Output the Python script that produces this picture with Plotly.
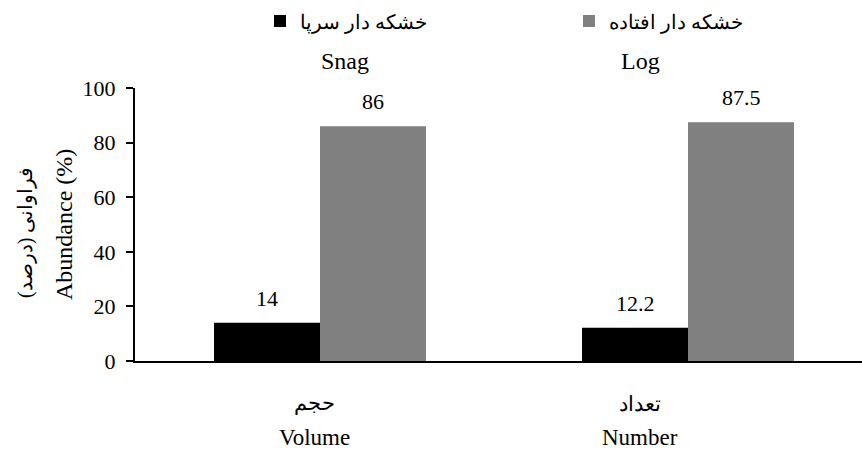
import plotly.graph_objects as go

categories = ["Volume", "Number"]
categories_fa = ["حجم", "تعداد"]
series_names_fa = ["خشکه دار سرپا", "خشکه دار افتاده"]
series_names_en = ["Snag", "Log"]
snag_values = [14, 12.2]
log_values = [86, 87.5]
y_ticks = [0, 20, 40, 60, 80, 100]

FONT = "Liberation Serif, Times New Roman, Times, serif"
PLOT_L, PLOT_R, PLOT_T, PLOT_B = 135, 862, 88, 361
PW, PH = PLOT_R - PLOT_L, PLOT_B - PLOT_T


def px_x(p):
    return (p - PLOT_L) / PW


def px_y(p):
    return (PLOT_B - p) / PH


fig = go.Figure()
fig.add_trace(go.Bar(x=categories, y=snag_values, name=series_names_fa[0], legend="legend",
                     marker=dict(color="#000000", line=dict(width=0))))
fig.add_trace(go.Bar(x=categories, y=log_values, name=series_names_fa[1], legend="legend2",
                     marker=dict(color="#808080", line=dict(width=0))))

annotations = []
# value labels above bars
for vals, shift in ((snag_values, -53), (log_values, 53)):
    for c, v in zip(categories, vals):
        annotations.append(dict(x=c, y=v, xref="x", yref="y", text=str(v), showarrow=False,
                                xshift=shift, yshift=10, xanchor="center", yanchor="bottom",
                                font=dict(family=FONT, size=22, color="#000")))
# category labels (two languages)
for c, fa, sh in zip(categories, categories_fa, (-6, -48)):
    annotations.append(dict(x=c, y=px_y(404), xref="x", yref="paper", text=fa, showarrow=False,
                            xshift=sh, xanchor="center", yanchor="middle",
                            font=dict(family=FONT, size=21, color="#000")))
    annotations.append(dict(x=c, y=px_y(437), xref="x", yref="paper", text=c, showarrow=False,
                            xshift=sh, xanchor="center", yanchor="middle",
                            font=dict(family=FONT, size=23, color="#000")))
# English series names under legend
for name, p in zip(series_names_en, (345, 640)):
    annotations.append(dict(x=px_x(p), y=px_y(61), xref="paper", yref="paper", text=name,
                            showarrow=False, xanchor="center", yanchor="middle",
                            font=dict(family=FONT, size=24, color="#000")))
# y axis titles
annotations.append(dict(x=px_x(64), y=px_y(225), xref="paper", yref="paper",
                        text="Abundance (%)", textangle=-90, showarrow=False,
                        xanchor="center", yanchor="middle",
                        font=dict(family=FONT, size=24, color="#000")))
annotations.append(dict(x=px_x(25), y=px_y(233), xref="paper", yref="paper",
                        text="فراوانی (درصد)", textangle=-90, showarrow=False,
                        xanchor="center", yanchor="middle",
                        font=dict(family=FONT, size=20, color="#000")))

legend_common = dict(orientation="h", xanchor="left", yanchor="middle", y=px_y(21),
                     font=dict(family=FONT, size=20, color="#000"),
                     bgcolor="rgba(0,0,0,0)", itemsizing="constant")

fig.update_layout(
    width=862, height=449,
    margin=dict(l=PLOT_L, r=862 - PLOT_R, t=PLOT_T, b=449 - PLOT_B, autoexpand=False),
    paper_bgcolor="white", plot_bgcolor="white",
    barmode="group", bargap=0.424, bargroupgap=0,
    font=dict(family=FONT, size=22, color="#000"),
    showlegend=True,
    legend=dict(x=px_x(260), **legend_common),
    legend2=dict(x=px_x(569), **legend_common),
    xaxis=dict(range=[-0.5027, 1.4728], showline=True, linecolor="#000", linewidth=2,
               showticklabels=False, ticks="", showgrid=False, zeroline=False, fixedrange=True),
    yaxis=dict(range=[0, 100], tickvals=y_ticks, showline=True, linecolor="#000", linewidth=2,
               ticks="outside", ticklen=7, tickwidth=2, tickcolor="#000", showgrid=False,
               ticklabelstandoff=6,
               zeroline=False, tickfont=dict(family=FONT, size=22, color="#000")),
    annotations=annotations,
)
fig.write_html("out.html")
